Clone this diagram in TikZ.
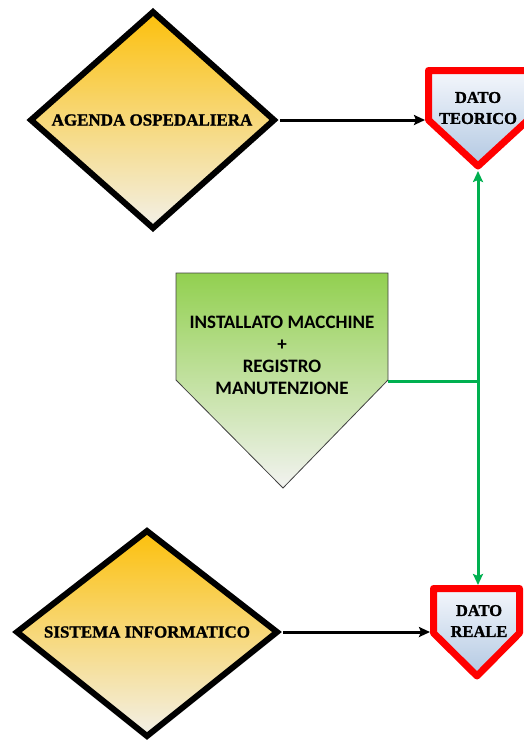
\documentclass[tikz,border=0pt]{standalone}
\usepackage{fontspec}
\setmainfont{Liberation Serif}[BoldFeatures={FakeBold=1.2}]
\newfontfamily\labelsans{Carlito}
\usetikzlibrary{arrows.meta}

\definecolor{ambertop}{RGB}{252,192,12}
\definecolor{amberbot}{RGB}{242,240,232}
\definecolor{leaftop}{RGB}{146,208,80}
\definecolor{leafbot}{RGB}{242,242,240}
\definecolor{icetop}{RGB}{244,247,252}
\definecolor{icebot}{RGB}{178,200,226}
\definecolor{flagred}{RGB}{255,0,0}
\definecolor{linkgreen}{RGB}{0,176,80}

\tikzset{
  source/.style={draw=black, line width=6pt, line join=miter, top color=ambertop, bottom color=amberbot},
  target/.style={draw=flagred, line width=7pt, line join=round, top color=icetop, bottom color=icebot},
  registry/.style={draw=black!75, line width=0.8pt, top color=leaftop, bottom color=leafbot},
  sourcetext/.style={font=\fontsize{17}{20}\selectfont\bfseries, align=center, inner sep=0pt},
  targettext/.style={font=\fontsize{16.5}{21}\selectfont\bfseries, align=center, inner sep=0pt},
  sansbold/.style={font=\labelsans\fontsize{19}{22}\selectfont\bfseries, align=center, inner sep=0pt},
  feed/.style={draw=black, line width=3pt, -{Stealth[length=11pt,width=10pt,inset=2pt]}},
  check/.style={draw=linkgreen, line width=3pt},
  checktip/.style={check, {Stealth[length=11pt,width=10pt,inset=2pt]}-{Stealth[length=11pt,width=10pt,inset=2pt]}}
}

\begin{document}
\begin{tikzpicture}[x=1pt, y=-1pt]
  \useasboundingbox (0,0) rectangle (523,740);

  % hospital agenda (top diamond)
  \path[source] (153,12) -- (274,120) -- (153,228) -- (31,120) -- cycle;
  \node[sourcetext] (agenda) at (152,120) {AGENDA OSPEDALIERA};
  \coordinate (agendaR) at (280,120);

  % information system (bottom diamond)
  \path[source] (147,531) -- (277,632) -- (147,736) -- (17,632) -- cycle;
  \node[sourcetext] (sistema) at (147,632) {SISTEMA INFORMATICO};
  \coordinate (sistemaR) at (283,632);

  % theoretical datum
  \path[target] (428.5,70.5) -- (528,70.5) -- (528,120) -- (478,166) -- (428.5,120) -- cycle;
  \node[targettext] (teorico) at (478,108) {DATO\\TEORICO};
  \coordinate (teoricoL) at (425,120);
  \coordinate (teoricoTip) at (478,171);

  % real datum
  \path[target] (433.5,588.5) -- (519.5,588.5) -- (519.5,633) -- (477,676) -- (433.5,633) -- cycle;
  \node[targettext] (reale) at (479,621) {DATO\\REALE};
  \coordinate (realeL) at (430,632);
  \coordinate (realeTop) at (478,585);

  % machine inventory + maintenance register
  \path[registry] (176,273) -- (388,273) -- (388,380) -- (283,488) -- (176,380) -- cycle;
  \node[sansbold] (registro) at (282,355) {INSTALLATO MACCHINE\\+\\REGISTRO\\MANUTENZIONE};
  \coordinate (registroR) at (388,381);
  \coordinate (junction) at (478,381);

  % connectors
  \draw[feed] (agendaR) -- (teoricoL);
  \draw[feed] (sistemaR) -- (realeL);
  \draw[checktip] (teoricoTip) -- (realeTop);
  \draw[check] (registroR) -- (junction);
\end{tikzpicture}
\end{document}
